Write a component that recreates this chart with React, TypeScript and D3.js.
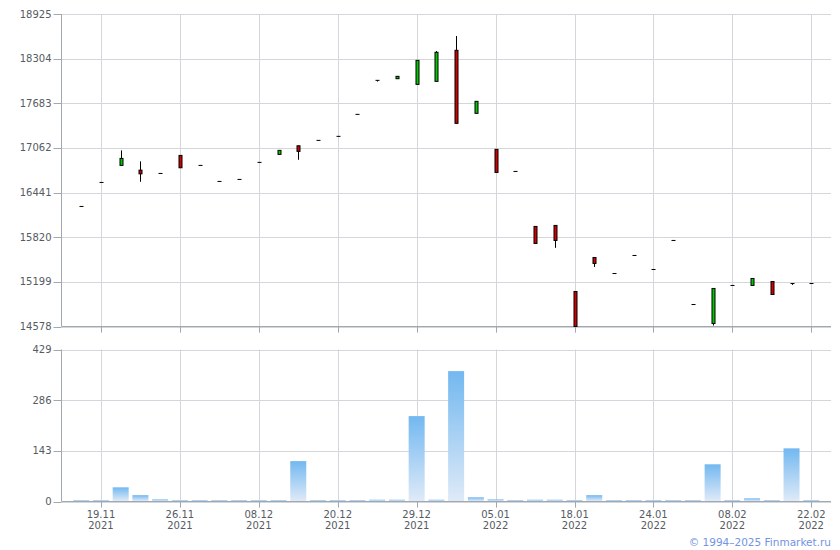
import { useEffect, useRef } from "react";
import * as d3 from "d3";

const dates = [
  "18.11.2021", "19.11.2021", "22.11.2021", "23.11.2021", "24.11.2021",
  "26.11.2021", "29.11.2021", "01.12.2021", "03.12.2021", "08.12.2021",
  "09.12.2021", "13.12.2021", "15.12.2021", "20.12.2021", "21.12.2021",
  "23.12.2021", "27.12.2021", "29.12.2021", "30.12.2021", "31.12.2021",
  "04.01.2022", "05.01.2022", "10.01.2022", "11.01.2022", "14.01.2022",
  "18.01.2022", "19.01.2022", "20.01.2022", "21.01.2022", "24.01.2022",
  "26.01.2022", "28.01.2022", "04.02.2022", "08.02.2022", "09.02.2022",
  "15.02.2022", "17.02.2022", "22.02.2022",
];

const opens = [
  16248, 16582, 16819, 16753, 16707, 16958, 16819, 16596, 16624, 16861,
  16972, 17092, 17167, 17223, 17529, 18002, 18025, 17946, 17988, 18420,
  17543, 17042, 16735, 15970, 15984, 15065, 15538, 15315, 15566, 15371,
  15775, 14884, 14620, 15149, 15149, 15204, 15176, 15176,
];
const highs = [
  16248, 16582, 17028, 16875, 16707, 16958, 16819, 16596, 16624, 16861,
  17028, 17092, 17167, 17223, 17529, 18002, 18058, 18280, 18410, 18619,
  17710, 17042, 16735, 15970, 15984, 15065, 15538, 15315, 15566, 15371,
  15775, 14884, 15107, 15149, 15246, 15204, 15176, 15176,
];
const lows = [
  16248, 16582, 16819, 16591, 16707, 16786, 16819, 16596, 16624, 16861,
  16972, 16897, 17167, 17223, 17529, 17985, 18025, 17946, 17988, 17404,
  17543, 16721, 16735, 15733, 15672, 14578, 15407, 15315, 15566, 15371,
  15775, 14884, 14592, 15149, 15149, 15023, 15157, 15176,
];
const closes = [
  16248, 16582, 16916, 16702, 16707, 16786, 16819, 16596, 16624, 16861,
  17028, 17014, 17167, 17223, 17529, 18002, 18058, 18280, 18392, 17404,
  17710, 16721, 16735, 15733, 15775, 14578, 15455, 15315, 15566, 15371,
  15775, 14884, 15107, 15149, 15246, 15023, 15176, 15176,
];
const volumes = [
  4, 4, 40, 18, 6, 4, 4, 4, 4, 4,
  4, 114, 4, 4, 4, 5, 5, 241, 5, 368,
  12, 6, 4, 5, 5, 4, 18, 4, 4, 4,
  4, 4, 105, 4, 9, 4, 150, 4,
];

const priceTicks = [14578, 15199, 15820, 16441, 17062, 17683, 18304, 18925];
const volumeTicks = [0, 143, 286, 429];
const labelDates = [
  "19.11.2021", "26.11.2021", "08.12.2021", "20.12.2021", "29.12.2021",
  "05.01.2022", "18.01.2022", "24.01.2022", "08.02.2022", "22.02.2022",
];

const FONT = "DejaVu Sans, Verdana, sans-serif";
const GRID = "#d3d7db";
const AXIS = "#a3a7ae";
const TEXT = "#555b63";

export default function App() {
  const svgRef = useRef<SVGSVGElement | null>(null);

  useEffect(() => {
    document.body.style.margin = "0";
    if (!svgRef.current) return;
    const svg = d3.select(svgRef.current);
    svg.selectAll("*").remove();

    const left = 61.5;
    const right = 831;
    const top1 = 14;
    const bottom1 = 326.5;
    const top2 = 349.5;
    const bottom2 = 501.5;

    const x = d3.scalePoint<string>().domain(dates).range([left, right]).padding(1);
    const y = d3.scaleLinear().domain([14578, 18925]).range([bottom1, top1]);
    const yv = d3.scaleLinear().domain([0, 429]).range([bottom2, top2]);

    const defs = svg.append("defs");
    const grad = defs
      .append("linearGradient")
      .attr("id", "vol-fill")
      .attr("x1", "0")
      .attr("y1", "0")
      .attr("x2", "0")
      .attr("y2", "1");
    grad.append("stop").attr("offset", "0%").attr("stop-color", "#72b8f0");
    grad.append("stop").attr("offset", "100%").attr("stop-color", "#dfeaf8");

    const rows = dates.map((d, i) => ({
      date: d,
      open: opens[i],
      high: highs[i],
      low: lows[i],
      close: closes[i],
      volume: volumes[i],
    }));

    // grids
    const drawPanel = (
      ticks: number[],
      scale: d3.ScaleLinear<number, number>,
      t: number,
      b: number,
    ) => {
      const g = svg.append("g");
      g.selectAll("line.h")
        .data(ticks)
        .join("line")
        .attr("x1", left)
        .attr("x2", right)
        .attr("y1", (d) => Math.round(scale(d)) + 0.5)
        .attr("y2", (d) => Math.round(scale(d)) + 0.5)
        .attr("stroke", GRID);
      g.selectAll("line.v")
        .data(labelDates)
        .join("line")
        .attr("x1", (d) => Math.round(x(d)!) + 0.5)
        .attr("x2", (d) => Math.round(x(d)!) + 0.5)
        .attr("y1", t)
        .attr("y2", b + 6)
        .attr("stroke", GRID);
      g.selectAll("line.vt")
        .data(labelDates)
        .join("line")
        .attr("x1", (d) => Math.round(x(d)!) + 0.5)
        .attr("x2", (d) => Math.round(x(d)!) + 0.5)
        .attr("y1", b)
        .attr("y2", b + 6)
        .attr("stroke", AXIS);
      g.selectAll("line.yt")
        .data(ticks)
        .join("line")
        .attr("x1", left - 8)
        .attr("x2", left)
        .attr("y1", (d) => Math.round(scale(d)) + 0.5)
        .attr("y2", (d) => Math.round(scale(d)) + 0.5)
        .attr("stroke", AXIS);
      g.selectAll("text")
        .data(ticks)
        .join("text")
        .attr("x", left - 10)
        .attr("y", (d) => scale(d))
        .attr("dy", "0.35em")
        .attr("text-anchor", "end")
        .attr("font-family", FONT)
        .attr("font-size", 10)
        .attr("fill", TEXT)
        .text((d) => d);
      g.append("line")
        .attr("x1", left)
        .attr("x2", left)
        .attr("y1", t)
        .attr("y2", b)
        .attr("stroke", AXIS);
      g.append("line")
        .attr("x1", left)
        .attr("x2", right)
        .attr("y1", b)
        .attr("y2", b)
        .attr("stroke", AXIS);
    };

    drawPanel(priceTicks, y, top1, bottom1);
    drawPanel(volumeTicks, yv, top2, bottom2);

    // candles
    const candles = svg.append("g");
    const bodyW = 3;
    candles
      .selectAll("line.wick")
      .data(rows.filter((d) => d.high !== d.low))
      .join("line")
      .attr("x1", (d) => Math.round(x(d.date)!) + 0.5)
      .attr("x2", (d) => Math.round(x(d.date)!) + 0.5)
      .attr("y1", (d) => y(d.high))
      .attr("y2", (d) => y(d.low))
      .attr("stroke", "#000");
    candles
      .selectAll("rect.body")
      .data(rows)
      .join("rect")
      .attr("x", (d) => Math.round(x(d.date)!) - 1)
      .attr("width", bodyW)
      .attr("y", (d) => Math.min(y(d.open), y(d.close)))
      .attr("height", (d) => Math.max(0.01, Math.abs(y(d.open) - y(d.close))))
      .attr("fill", (d) =>
        d.close > d.open ? "#00c800" : d.close < d.open ? "#d00000" : "#000",
      )
      .attr("stroke", "#000")
      .attr("stroke-width", 1);

    // volume bars
    const barW = 16;
    svg
      .append("g")
      .selectAll("rect")
      .data(rows)
      .join("rect")
      .attr("x", (d) => x(d.date)! - barW / 2)
      .attr("width", barW)
      .attr("y", (d) => yv(d.volume))
      .attr("height", (d) => bottom2 - 0.5 - yv(d.volume))
      .attr("fill", "url(#vol-fill)");

    // x labels
    const xl = svg.append("g");
    xl.selectAll("text.d")
      .data(labelDates)
      .join("text")
      .attr("x", (d) => x(d)!)
      .attr("y", 517.5)
      .attr("text-anchor", "middle")
      .attr("font-family", FONT)
      .attr("font-size", 10)
      .attr("fill", TEXT)
      .text((d) => d.slice(0, 5));
    xl.selectAll("text.y")
      .data(labelDates)
      .join("text")
      .attr("x", (d) => x(d)!)
      .attr("y", 529)
      .attr("text-anchor", "middle")
      .attr("font-family", FONT)
      .attr("font-size", 10)
      .attr("fill", TEXT)
      .text((d) => d.slice(6));

    svg
      .append("text")
      .attr("x", 831)
      .attr("y", 546)
      .attr("text-anchor", "end")
      .attr("font-family", FONT)
      .attr("font-size", 10.5)
      .attr("fill", "#7393e3")
      .text("© 1994–2025 Finmarket.ru");
  }, []);

  return (
    <div style={{ position: "absolute", left: 0, top: 0 }}>
      <svg ref={svgRef} width={840} height={550} style={{ display: "block", background: "#fff" }} />
    </div>
  );
}
